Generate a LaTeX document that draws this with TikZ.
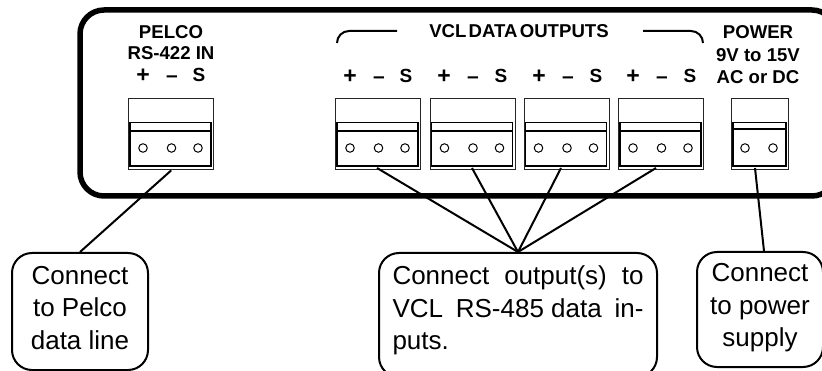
\documentclass[tikz,border=0pt]{standalone}
\usepackage{fontspec}
\setmainfont{Liberation Sans}
\begin{document}
\begin{tikzpicture}[x=1pt,y=-1pt,
  panel/.style={draw=black,line width=5.5pt,rounded corners=24pt},
  callout/.style={draw=black,line width=2pt,rounded corners=20pt,inner sep=0pt,align=center,font=\fontsize{26}{32.5}\selectfont,anchor=north west},
  wire/.style={draw=black,line width=2pt},
  lab/.style={font=\fontsize{19}{19}\selectfont\bfseries,inner sep=0pt},
  plus/.style={font=\fontsize{23}{23}\selectfont\bfseries,inner sep=0pt},
  minus/.style={font=\fontsize{21}{21}\selectfont\bfseries,inner sep=0pt},
  hdr/.style={font=\fontsize{18.6}{18.6}\selectfont\bfseries,inner sep=0pt},
  outerblk/.style={draw=black!85,line width=1.4pt,anchor=north west,inner sep=0pt},
  innerblk/.style={draw=black,line width=1.3pt},
  hole/.style={circle,draw=black,line width=1pt,minimum size=8.5pt,inner sep=0pt},
  brk/.style={draw=black,line width=2pt,rounded corners=12pt}]
\useasboundingbox (0,0) rectangle (822,371);
\fill[white] (0,0) rectangle (822,371);
\draw[panel] (80,10) rectangle (836,196);
% headings
\node[hdr] (h1) at (171,32) {PELCO};
\node[hdr] (h2) at (171,53) {RS-422 IN};
\node[hdr] (h3) at (519,31) {\spaceskip=0.12em VCL DATA OUTPUTS};
\node[hdr] (h4) at (758,32) {POWER};
\node[hdr] (h5) at (758,55) {9V to 15V};
\node[hdr] (h6) at (758,77) {AC or DC};
% brackets
\coordinate (bl1) at (337,43);
\coordinate (bl2) at (337,31);
\coordinate (bl3) at (397,31);
\coordinate (br1) at (643,31);
\coordinate (br2) at (703,31);
\coordinate (br3) at (703,43);
\draw[brk] (bl1) -- (bl2) -- (bl3);
\draw[brk] (br1) -- (br2) -- (br3);
% blocks
\foreach \n/\x/\ty/\px/\mx/\sx in {a/128/76/143/172/199,b/335/77/350/379/406,c/429.5/77/444/473/501,d/523.5/77/539/568/596,e/618/77/633/662/690}{
  \node[outerblk,minimum width=85pt,minimum height=71pt] (\n) at (\x,98) {};
  \draw[innerblk] (\x+2,122.5) rectangle (\x+83,166);
  \draw[black,line width=1.3pt] (\x+2,131) -- (\x+83,131);
  \node[hole] (\n1) at (\x+15,148) {};
  \node[hole] (\n2) at (\x+43.5,148) {};
  \node[hole] (\n3) at (\x+70,148) {};
  \node[plus] (\n p) at (\px,\ty) {+};
  \node[minus] (\n m) at (\mx,\ty+3) {–};
  \node[lab] (\n s) at (\sx,\ty-1) {S};
}
\node[outerblk,minimum width=57pt,minimum height=71pt] (f) at (731,98) {};
\draw[innerblk] (733,122.5) rectangle (786,166);
\draw[black,line width=1.3pt] (733,129) -- (786,129);
\node[hole] (f1) at (745,148) {};
\node[hole] (f2) at (773,148) {};
% callouts
\node[callout,minimum width=136pt,minimum height=117pt] (c1) at (11,252) {Connect\\to Pelco\\data line\rule[-8pt]{0pt}{1pt}};
\node[callout,minimum width=278pt,minimum height=124pt] (c2) at (378,252) {\makebox[251pt][s]{Connect\hfill output(s)\hfill to}\\\makebox[251pt][s]{VCL\hfill RS-485 data\hfill in-}\\\makebox[251pt][l]{puts.}\rule[-14pt]{0pt}{1pt}};
\node[callout,minimum width=126pt,minimum height=115pt] (c3) at (696,251) {Connect\\to power\\supply\rule[-9pt]{0pt}{1pt}};
% connectors
\coordinate (sb) at (377,168);
\coordinate (sc) at (472,168);
\coordinate (sd) at (561,168);
\coordinate (se) at (656,168);
\coordinate (sf) at (755,168);
\coordinate (t3) at (764,251);
\draw[wire] (a.south) -- (c1.north);
\draw[wire] (sb) -- (c2.north);
\draw[wire] (sc) -- (c2.north);
\draw[wire] (sd) -- (c2.north);
\draw[wire] (se) -- (c2.north);
\draw[wire] (sf) -- (t3);
\end{tikzpicture}
\end{document}
